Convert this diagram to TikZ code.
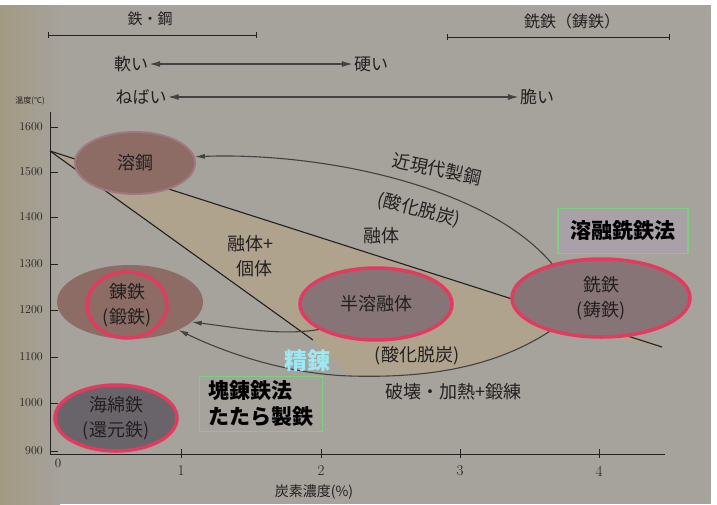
\documentclass[tikz,border=0pt]{standalone}
\usepackage{fontspec}
\newfontfamily\cjk{Noto Sans CJK JP}
\usetikzlibrary{shapes.geometric,arrows.meta}

\definecolor{photo}{HTML}{A6A29C}
\definecolor{photoleft}{HTML}{A29A82}
\definecolor{wedge}{HTML}{B0A38D}
\definecolor{ink}{HTML}{222020}
\definecolor{halo}{HTML}{A07880}
\definecolor{brownfill}{HTML}{8C6C64}
\definecolor{mauvefill}{HTML}{877477}
\definecolor{darkfill}{HTML}{69646A}
\definecolor{ring}{HTML}{E13C5F}
\definecolor{boxgreen}{HTML}{7ED07E}
\definecolor{boxfill}{HTML}{A9A0A8}
\definecolor{cyantext}{HTML}{9BE9F2}

\begin{document}
\begin{tikzpicture}[x=1pt, y=-1pt,
    lbl/.style={text=ink, inner sep=1pt, align=center, font=\cjk\fontsize{18}{25}\selectfont},
    hdr/.style={lbl, font=\cjk\fontsize{17}{20}\selectfont},
    num/.style={text=ink, inner sep=1pt, font=\fontsize{12}{14}\selectfont},
    phase/.style={lbl, shape=ellipse, inner sep=0pt},
    ringed/.style={phase, draw=ring, line width=3.5pt},
    method/.style={draw=boxgreen, line width=1.8pt, text=black, inner sep=0pt, align=left, font=\cjk\bfseries\fontsize{21}{26}\selectfont},
    flow/.style={draw=ink!85, line width=1.1pt, -{Latex[length=10pt,width=5pt]}},
    hdrflow/.style={draw=ink!85, line width=1.4pt, {Latex[length=11pt,width=6pt]}-{Latex[length=11pt,width=6pt]}},
    spanline/.style={draw=ink, line width=0.9pt, {|[width=6pt]}-{|[width=6pt]}}
  ]
  \useasboundingbox (0,0) rectangle (717,504);

  % photo background
  \fill[white] (0,0) rectangle (717,504);
  \fill[photo] (0,5) rectangle (711,504);
  \shade[left color=photoleft, right color=photo] (0,5) rectangle (60,504);

  % two-phase region
  \fill[wedge] (50,151) -- (313,340) -- (350,376)
    .. controls (420,378) and (490,370) .. (551,330) -- (662,347) -- cycle;

  % axes
  \draw[ink, line width=1pt] (50,112) -- (50,454) -- (665,454);
  \foreach \t/\y in {1600/127,1500/172,1400/217,1300/264,1200/310,1100/357,1000/403,900/451} {
    \draw[ink, line width=0.8pt] (50,\y) -- (58,\y);
    \node[num, anchor=east] at (44,\y) (t\t) {\t};
  }
  \foreach \c/\x in {1/181,2/321,3/460,4/599} {
    \draw[ink, line width=0.8pt] (\x,449) -- (\x,458);
    \node[num, font=\fontsize{15}{17}\selectfont] at (\x,471) (c\c) {\c};
  }
  \node[num, font=\fontsize{13}{15}\selectfont] at (58,463) (c0) {0};
  \node[lbl, font=\cjk\fontsize{8}{10}\selectfont] at (30,101) (taxis) {温度(℃)};
  \node[lbl, font=\cjk\fontsize{14}{16}\selectfont] at (314,492) (caxis) {炭素濃度(\%)};

  % liquidus lines
  \draw[ink, line width=1.1pt] (50,151) -- (313,340);
  \draw[ink, line width=1.1pt] (50,151) -- (662,347);

  % header
  \node[hdr, font=\cjk\fontsize{15}{18}\selectfont] at (150,19) (steel) {鉄・鋼};
  \node[hdr, font=\cjk\fontsize{16}{18}\selectfont] at (572,21) (castiron) {銑鉄（鋳鉄）};
  \coordinate (steelL) at (48,35);
  \coordinate (steelR) at (257,35);
  \coordinate (castL) at (447,37);
  \coordinate (castR) at (670,37);
  \draw[spanline] (steelL) -- (steelR);
  \draw[spanline] (castL) -- (castR);
  \node[hdr] at (131,64) (soft) {軟い};
  \node[hdr] at (371,64) (hard) {硬い};
  \node[hdr] at (141,97) (tough) {ねばい};
  \node[hdr] at (537,97) (brittle) {脆い};
  \draw[hdrflow] (soft) -- (hard);
  \draw[hdrflow] (tough) -- (brittle);

  % phases
  \node[phase, fill=brownfill, draw=halo, line width=2pt, minimum width=120pt, minimum height=62pt] at (135,163) (molten) {溶鋼};
  \node[phase, fill=brownfill, minimum width=146pt, minimum height=74pt] at (130,302) (wrought) {};
  \node[ringed, fill=brownfill, minimum width=80pt, minimum height=66pt] at (127,305) (wroughtcore) {錬鉄\\(鍛鉄)};
  \node[ringed, fill=darkfill, minimum width=122pt, minimum height=66pt] at (116,418) (sponge) {海綿鉄\\(還元鉄)};
  \node[ringed, fill=mauvefill, minimum width=152pt, minimum height=72pt] at (376,304) (semi) {半溶融体};
  \node[ringed, fill=mauvefill, minimum width=178pt, minimum height=78pt] at (601,298) (pig) {銑鉄\\(鋳鉄)};

  % process arrows
  \draw[flow] (pig.145) .. controls (485,185) and (320,152) .. (molten.6);
  \draw[flow] (semi.204) .. controls (280,336) and (240,328) .. (wrought.-18);
  \draw[flow] (pig.213) .. controls (490,370) and (420,378) .. (350,376)
    .. controls (290,374) and (230,355) .. (wrought.-30);

  % labels
  \node[lbl, rotate=-12] at (437,169) (modern) {近現代製鋼};
  \node[lbl, rotate=-14] at (419,210) (oxid) {(酸化脱炭)};
  \node[lbl] at (381,236) (melt) {融体};
  \node[lbl, align=right] at (250,256) (mush) {融体+\\個体};
  \node[lbl] at (417,356) (oxidb) {(酸化脱炭)};
  \node[lbl] at (453,392) (forge) {破壊・加熱+鍛練};
  \node[lbl, text=cyantext, font=\cjk\bfseries\fontsize{23}{26}\selectfont] at (307,361) (refine) {精錬};
  \node[method, fill=boxfill, minimum width=130pt, minimum height=45pt] at (623,231) (smelt) {溶融銑鉄法};
  \node[method, fill=photo, minimum width=123pt, minimum height=55pt, inner sep=3pt] at (261,404) (bloom) {塊錬鉄法\\たたら製鉄};
\end{tikzpicture}
\end{document}
